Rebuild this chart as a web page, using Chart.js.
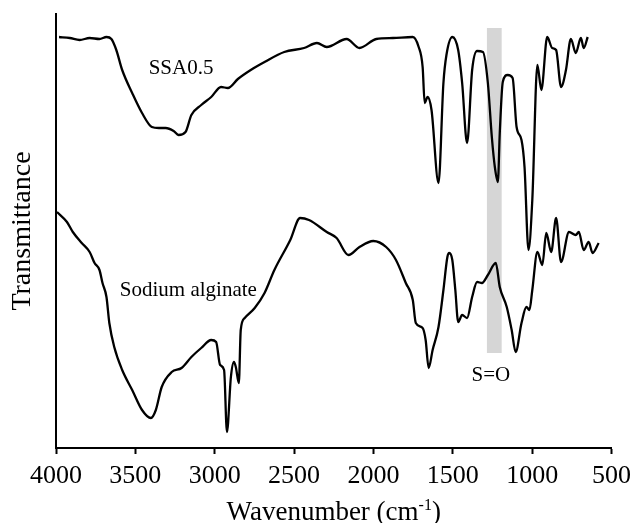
<!DOCTYPE html>
<html>
<head>
<meta charset="utf-8">
<script src="https://cdn.jsdelivr.net/npm/chart.js@4"></script>
<style>
  body { margin: 0; background: #fff; }
  canvas { display: block; }
</style>
</head>
<body>
<canvas id="myChart" width="638" height="523"></canvas>
<script>
// wavenumber ticks
var xTicks = [4000, 3500, 3000, 2500, 2000, 1500, 1000, 500];

// SSA0.5 spectrum
var ssaWave = [3981, 3913, 3851, 3788, 3726, 3682, 3651, 3620, 3583, 3520, 3458, 3396, 3352, 3309, 3259, 3228,
    3184, 3147, 3085, 3022, 2960, 2917, 2854, 2773, 2686, 2562, 2437, 2356, 2294, 2169, 2088, 1982,
    1877, 1752, 1715, 1690, 1677, 1659, 1634, 1590, 1559, 1540, 1503, 1466, 1441, 1410, 1378, 1347,
    1310, 1279, 1254, 1235, 1216, 1204, 1185, 1154, 1123, 1098, 1067, 1048, 1023, 999, 967, 942,
    905, 874, 849, 818, 787, 756, 725, 693, 675, 650];
var ssaT = [82.2, 82.0, 81.6, 82.0, 81.8, 82.2, 81.8, 79.6, 75.6, 71.0, 67.0, 64.2, 64.0, 64.0, 63.4, 62.6,
    63.2, 66.6, 68.6, 70.2, 72.2, 72.0, 73.8, 75.6, 77.2, 79.2, 80.0, 81.0, 80.2, 81.8, 80.0, 81.8,
    82.0, 82.2, 80.2, 76.2, 69.0, 70.2, 67.6, 53.0, 73.0, 78.6, 82.2, 79.6, 73.0, 61.0, 75.6, 79.4,
    79.2, 73.0, 62.2, 56.2, 53.2, 63.0, 73.2, 74.6, 74.0, 64.2, 61.6, 56.2, 39.6, 49.6, 76.6, 71.6,
    82.2, 80.0, 79.6, 72.2, 75.6, 81.8, 79.0, 82.0, 80.0, 82.2];

// Sodium alginate spectrum
var saWave = [3994, 3931, 3894, 3838, 3788, 3757, 3726, 3707, 3682, 3664, 3633, 3583, 3520, 3458, 3402, 3371,
    3334, 3271, 3209, 3147, 3085, 3022, 2991, 2966, 2941, 2923, 2898, 2879, 2867, 2848, 2836, 2811,
    2748, 2686, 2624, 2524, 2462, 2406, 2294, 2232, 2157, 2088, 2001, 1920, 1858, 1796, 1752, 1733,
    1690, 1671, 1652, 1627, 1590, 1559, 1534, 1522, 1503, 1484, 1466, 1441, 1410, 1378, 1347, 1316,
    1279, 1229, 1204, 1160, 1129, 1104, 1067, 1036, 1017, 999, 967, 936, 911, 880, 849, 818,
    768, 725, 706, 675, 644, 619, 581];
var saT = [47.2, 45.2, 43.2, 41.0, 39.2, 37.0, 35.6, 33.0, 30.2, 25.0, 20.2, 15.6, 11.6, 7.6, 6.0, 7.6,
    12.2, 15.2, 16.0, 18.2, 20.0, 21.6, 21.2, 16.6, 15.6, 3.2, 14.2, 17.2, 16.2, 13.0, 23.6, 26.0,
    28.0, 31.0, 35.6, 41.6, 46.0, 45.6, 43.2, 42.0, 38.6, 40.2, 41.4, 40.2, 37.6, 33.0, 29.6, 25.0,
    24.0, 21.6, 16.0, 19.6, 24.2, 31.6, 38.2, 39.0, 37.6, 31.6, 25.2, 26.6, 26.0, 30.2, 33.2, 33.0,
    34.6, 37.0, 32.2, 28.2, 23.6, 19.2, 25.0, 28.2, 27.6, 31.6, 39.2, 36.6, 43.0, 39.2, 46.0, 37.2,
    43.2, 42.6, 43.2, 39.6, 41.2, 39.0, 41.0];

// S=O shaded band (wavenumber range and height)
var bandWave = [1285, 1192];
var bandT = [19, 84];

function toPoints(xs, ys) {
    return xs.map(function (x, i) { return { x: x, y: ys[i] }; });
}

const serif = '"Liberation Serif", "Times New Roman", serif';

// shaded band behind the curves, labels and x title on top
const extras = {
    id: 'extras',
    beforeDatasetsDraw(chart) {
        const ctx = chart.ctx, xs = chart.scales.x, ys = chart.scales.y;
        const x1 = xs.getPixelForValue(bandWave[0]);
        const x2 = xs.getPixelForValue(bandWave[1]);
        const y1 = ys.getPixelForValue(bandT[1]);
        const y2 = ys.getPixelForValue(bandT[0]);
        ctx.save();
        ctx.fillStyle = '#d6d6d6';
        ctx.fillRect(x1, y1, x2 - x1, y2 - y1);
        ctx.restore();
    },
    afterDraw(chart) {
        const ctx = chart.ctx, xs = chart.scales.x, ys = chart.scales.y;
        ctx.save();
        ctx.fillStyle = '#000';
        ctx.textAlign = 'center';
        ctx.textBaseline = 'alphabetic';
        ctx.font = '21px ' + serif;
        ctx.fillText('SSA0.5', xs.getPixelForValue(3212), ys.getPixelForValue(74.9));
        ctx.fillText('Sodium alginate', xs.getPixelForValue(3166), ys.getPixelForValue(30.4));
        ctx.fillText('S=O', xs.getPixelForValue(1260), ys.getPixelForValue(13.4));

        // x axis title with superscript
        const big = '27px ' + serif, small = '16px ' + serif;
        ctx.font = big;
        const a = 'Wavenumber (cm', c = ')';
        const wa = ctx.measureText(a).width, wc = ctx.measureText(c).width;
        ctx.font = small;
        const wb = ctx.measureText('-1').width;
        const cx = (chart.chartArea.left + chart.chartArea.right) / 2;
        let x = cx - (wa + wb + wc) / 2;
        const base = 520;
        ctx.textAlign = 'left';
        ctx.font = big;
        ctx.fillText(a, x, base);
        x += wa;
        ctx.font = small;
        ctx.fillText('-1', x, base - 10);
        x += wb;
        ctx.font = big;
        ctx.fillText(c, x, base);
        ctx.restore();
    }
};

const data = {
    datasets: [
        {
            label: 'SSA0.5',
            data: toPoints(ssaWave, ssaT),
            borderColor: '#000',
            borderWidth: 2.3,
            pointRadius: 0,
            cubicInterpolationMode: 'monotone',
            fill: false
        },
        {
            label: 'Sodium alginate',
            data: toPoints(saWave, saT),
            borderColor: '#000',
            borderWidth: 2.3,
            pointRadius: 0,
            cubicInterpolationMode: 'monotone',
            fill: false
        }
    ]
};

const config = {
    type: 'line',
    data: data,
    options: {
        responsive: false,
        animation: false,
        layout: { padding: { top: 14, right: 20, left: 0, bottom: 0 } },
        plugins: {
            legend: { display: false },
            tooltip: { enabled: false }
        },
        scales: {
            x: {
                type: 'linear',
                reverse: true,
                min: 500,
                max: 4000,
                afterFit: function (scale) { scale.height = 75; },
                afterBuildTicks: function (scale) {
                    scale.ticks = xTicks.map(function (v) { return { value: v }; });
                },
                ticks: {
                    color: '#000',
                    padding: 7,
                    maxRotation: 0,
                    font: { family: serif, size: 26 },
                    callback: function (value) { return String(value); }
                },
                grid: {
                    display: true,
                    drawOnChartArea: false,
                    drawTicks: true,
                    tickLength: 6,
                    tickWidth: 2,
                    tickColor: '#000'
                },
                border: { display: true, color: '#000', width: 2 }
            },
            y: {
                min: 0,
                max: 86.8,
                afterFit: function (scale) { scale.width = 56; },
                ticks: { display: false },
                grid: { display: false },
                border: { display: true, color: '#000', width: 2 },
                title: {
                    display: true,
                    text: 'Transmittance',
                    color: '#000',
                    padding: { top: 6, bottom: 0 },
                    font: { family: serif, size: 28 }
                }
            }
        }
    },
    plugins: [extras]
};

var myChart = new Chart(document.getElementById('myChart'), config);
</script>
</body>
</html>
